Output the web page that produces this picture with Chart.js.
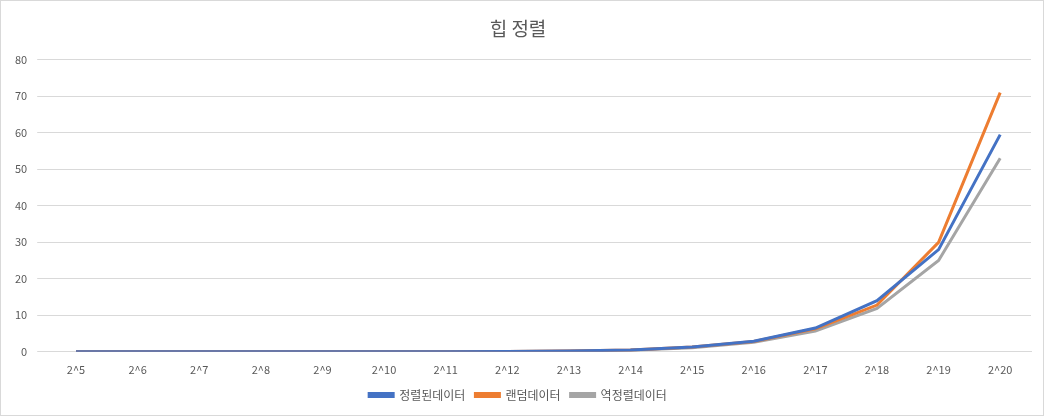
<!DOCTYPE html>
<html>
<head>
<meta charset="utf-8">
<script src="https://cdn.jsdelivr.net/npm/chart.js@4"></script>
<style>
  body { margin: 0; background: #fff; }
  #wrap { width: 1042px; height: 414px; border: 1px solid #d9d9d9; }
</style>
</head>
<body>
<div id="wrap"><canvas id="heapChart" width="1042" height="414"></canvas></div>
<script>
const labels = ["2^5", "2^6", "2^7", "2^8", "2^9", "2^10", "2^11", "2^12", "2^13", "2^14", "2^15", "2^16", "2^17", "2^18", "2^19", "2^20"];
const sortedData = [0, 0, 0, 0, 0.01, 0.02, 0.04, 0.09, 0.2, 0.5, 1.3, 2.9, 6.5, 14, 28, 59.5];
const randomData = [0, 0, 0, 0, 0.01, 0.02, 0.04, 0.1, 0.22, 0.5, 1.3, 2.8, 6.3, 12.8, 30, 71];
const reverseData = [0, 0, 0, 0, 0.01, 0.02, 0.04, 0.08, 0.18, 0.45, 1.1, 2.6, 5.7, 11.9, 25, 53];

const ctx = document.getElementById("heapChart");
const font = { family: "'Noto Sans CJK KR', 'Noto Sans', sans-serif" };

new Chart(ctx, {
  type: "line",
  data: {
    labels: labels,
    datasets: [
      { label: "정렬된데이터", data: sortedData, borderColor: "#4472c4", backgroundColor: "#4472c4" },
      { label: "랜덤데이터", data: randomData, borderColor: "#ed7d31", backgroundColor: "#ed7d31" },
      { label: "역정렬데이터", data: reverseData, borderColor: "#a5a5a5", backgroundColor: "#a5a5a5" },
    ],
  },
  options: {
    responsive: false,
    animation: false,
    elements: { point: { radius: 0 }, line: { borderWidth: 3, tension: 0 } },
    layout: { padding: { left: 4, right: 12, top: 16, bottom: 4 } },
    plugins: {
      title: { display: true, text: "힙 정렬", color: "#595959", font: { ...font, size: 19, weight: "normal" }, padding: { bottom: 20 } },
      legend: {
        position: "bottom",
        labels: { boxWidth: 24, boxHeight: 3, color: "#595959", font: { ...font, size: 12 } },
      },
    },
    scales: {
      x: {
        offset: true,
        grid: { display: false },
        border: { color: "#d9d9d9" },
        ticks: { color: "#595959", font: { ...font, size: 11 }, maxRotation: 0 },
      },
      y: {
        min: 0, max: 80,
        ticks: { stepSize: 10, color: "#595959", font: { ...font, size: 11 }, padding: 10 },
        grid: { color: "#d9d9d9" },
        border: { display: false },
      },
    },
  },
});
</script>
</body>
</html>
